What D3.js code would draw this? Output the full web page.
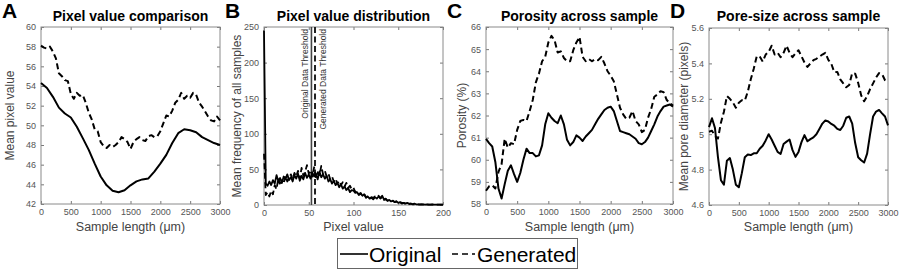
<!DOCTYPE html>
<html>
<head>
<meta charset="utf-8">
<script src="https://cdn.jsdelivr.net/npm/d3@7"></script>
<style>
  body { margin: 0; background: #fff; }
  svg { font-family: Arial, "Liberation Sans", sans-serif; }
  .tick text { fill: #555; font-size: 9px; }
  .tick line { stroke: #777; }
</style>
</head>
<body>
<svg id="chart" width="899" height="270"></svg>
<script>
// sample positions along the specimen (um)
const lenStep100 = d3.range(0, 3001, 100);
const lenStep50 = d3.range(0, 3001, 50);
const pixelSteps = d3.range(0, 201, 2);

// A - mean pixel value
const aOriginal = [54.3, 53.8, 52.9, 51.8, 51.2, 50.8, 49.85, 48.7, 47.5, 46.1, 44.8,
  43.9, 43.35, 43.2, 43.4, 43.9, 44.3, 44.5, 44.6, 45.3, 46.1, 47.0, 48.2, 49.2, 49.6,
  49.5, 49.3, 48.8, 48.5, 48.2, 48.0];
const aGenerated = [58.1, 57.9, 57.8, 58.0, 57.5, 56.8, 55.3, 55.0, 54.6, 54.5, 53.2,
  52.7, 53.3, 53.0, 53.1, 52.3, 51.3, 50.6, 49.6, 49.4, 48.3, 47.9, 47.7, 48.0, 47.8,
  48.0, 48.3, 48.8, 48.6, 48.3, 47.6, 48.3, 48.6, 48.8, 48.5, 48.4, 48.9, 49.0, 48.8,
  48.9, 49.4, 50.2, 51.0, 50.9, 51.5, 52.3, 52.6, 53.3, 52.7, 53.0, 52.8, 53.3, 53.1,
  52.3, 51.9, 51.4, 50.9, 50.5, 50.4, 50.9, 50.5];

// B - pixel value histogram
const bOriginal = [245, 30, 27, 33, 28, 35, 30, 42, 33, 38, 31, 40, 36, 43, 35, 39, 33,
  42, 37, 44, 34, 41, 36, 45, 38, 43, 37, 46, 40, 44, 36, 47, 39, 43, 37, 41, 33, 36,
  30, 34, 28, 31, 25, 29, 23, 26, 21, 24, 18, 21, 20, 17, 18, 14, 16, 13, 15, 11, 12,
  9, 10, 8, 11, 9, 12, 10, 13, 8, 9, 6, 7, 5, 6, 4, 5, 3, 4, 3, 3, 2, 3, 2, 2, 1, 2,
  1, 1, 1, 1, 1, 0.5, 1, 0.5, 0.5, 1, 0.5, 0.5, 0.5, 0.5, 0.5, 0.5];
const bGenerated = [72, 14, 18, 12, 20, 15, 28, 22, 38, 27, 35, 30, 41, 33, 38, 43, 36,
  45, 40, 48, 37, 52, 41, 47, 56, 44, 49, 40, 53, 38, 46, 42, 55, 43, 48, 40, 44, 36,
  40, 33, 37, 30, 34, 28, 32, 26, 31, 24, 27, 22, 24, 18, 20, 15, 17, 13, 15, 10, 12,
  9, 11, 10, 12, 11, 13, 9, 11, 7, 8, 6, 7, 5, 6, 4, 5, 3, 4, 2, 3, 2, 2, 1, 2, 1, 1,
  1, 1, 0.5, 1, 0.5, 0.5, 1, 0.5, 0.5, 0.5, 0.5, 0.5, 0.5, 0.5, 0.5, 0.5];
const thresholds = [53, 57];
const thresholdLabels = ['Original Data Threshold', 'Generated Data Threshold'];

// C - porosity (%)
const cOriginal = [60.94, 60.75, 60.6, 59.9, 58.7, 58.25, 58.9, 59.5, 59.75, 59.35, 59.0,
  59.4, 60.0, 60.5, 60.3, 60.3, 60.15, 60.2, 60.65, 61.6, 62.1, 61.9, 61.75, 61.65, 62.0,
  61.6, 60.9, 60.65, 60.8, 61.1, 61.0, 60.85, 61.05, 61.2, 61.35, 61.6, 61.85, 62.05,
  62.25, 62.35, 62.4, 62.2, 61.75, 61.3, 61.25, 61.2, 61.15, 61.05, 60.95, 60.75, 60.7,
  60.8, 61.0, 61.3, 61.6, 61.95, 62.2, 62.4, 62.45, 62.5, 62.4];
const cGenerated = [58.6, 58.8, 58.85, 58.7, 59.45, 59.8, 60.95, 60.55, 60.75, 60.7, 61.35,
  61.75, 61.8, 61.75, 62.2, 62.7, 63.5, 63.9, 64.45, 64.65, 65.3, 65.6, 65.4, 64.85, 64.9,
  64.6, 64.45, 64.45, 64.95, 65.3, 65.55, 64.65, 64.45, 64.55, 64.45, 64.55, 64.5, 64.65,
  64.35, 64.0, 63.8, 63.55, 62.95, 62.35, 62.05, 61.85, 61.9, 62.2, 61.75, 61.6, 61.25,
  61.35, 61.9, 62.3, 62.85, 62.95, 63.1, 63.05, 62.7, 62.55, 62.45];

// D - mean pore diameter (pixels)
const dOriginal = [5.04, 5.09, 5.035, 4.87, 4.74, 4.715, 4.85, 4.865, 4.8, 4.715, 4.7,
  4.78, 4.87, 4.885, 4.882, 4.892, 4.892, 4.918, 4.935, 4.965, 5.0, 4.97, 4.935, 4.9,
  4.888, 4.945, 4.958, 4.97, 4.91, 4.872, 4.9, 4.955, 4.995, 4.96, 4.972, 4.982, 5.0,
  5.03, 5.06, 5.078, 5.072, 5.058, 5.048, 5.03, 5.024, 5.048, 5.093, 5.1, 5.06, 4.95,
  4.87, 4.853, 4.84, 4.89, 5.0, 5.1, 5.128, 5.137, 5.118, 5.1, 5.05];
const dGenerated = [5.014, 5.02, 4.99, 4.975, 5.065, 5.127, 5.215, 5.2, 5.18, 5.15, 5.178,
  5.192, 5.19, 5.24, 5.31, 5.37, 5.44, 5.44, 5.41, 5.45, 5.465, 5.5, 5.45, 5.46, 5.435,
  5.46, 5.5, 5.46, 5.435, 5.457, 5.474, 5.44, 5.405, 5.38, 5.4, 5.418, 5.426, 5.438,
  5.45, 5.46, 5.42, 5.398, 5.35, 5.352, 5.31, 5.287, 5.265, 5.278, 5.345, 5.342, 5.29,
  5.22, 5.186, 5.215, 5.255, 5.287, 5.32, 5.345, 5.34, 5.305, 5.29];

const legendLabels = ['Original', 'Generated'];

const svg = d3.select('#chart');
const DASH = '6,3.5';

const panels = [
  {letter: 'A', title: 'Pixel value comparison', box: [41, 27, 220, 204],
   xDomain: [0, 3000], xTicks: d3.range(0, 3001, 500), yDomain: [42, 60], yTicks: d3.range(42, 61, 2),
   xLabel: 'Sample length (\u03bcm)', yLabel: 'Mean pixel value', yLabelX: 10,
   series: [{x: lenStep100, y: aOriginal}, {x: lenStep50, y: aGenerated, dash: true}]},
  {letter: 'B', title: 'Pixel value distribution', box: [264, 27, 443, 205],
   xDomain: [0, 200], xTicks: d3.range(0, 201, 50), yDomain: [0, 250], yTicks: d3.range(0, 251, 50),
   xLabel: 'Pixel value', yLabel: 'Mean frequency of all samples', yLabelX: 237,
   series: [{x: pixelSteps, y: bOriginal, w: 1.8}, {x: pixelSteps, y: bGenerated, dash: true, w: 1.8}]},
  {letter: 'C', title: 'Porosity across sample', box: [486, 27, 673, 204],
   xDomain: [0, 3000], xTicks: d3.range(0, 3001, 500), yDomain: [58, 66], yTicks: d3.range(58, 67, 1),
   xLabel: 'Sample length (\u03bcm)', yLabel: 'Porosity (%)', yLabelX: 462,
   series: [{x: lenStep50, y: cOriginal}, {x: lenStep50, y: cGenerated, dash: true}]},
  {letter: 'D', title: 'Pore-size across sample', box: [709, 28, 888, 205],
   xDomain: [0, 3000], xTicks: d3.range(0, 3001, 500), yDomain: [4.6, 5.6], yTicks: [4.6, 4.8, 5, 5.2, 5.4, 5.6],
   xLabel: 'Sample length (\u03bcm)', yLabel: 'Mean pore diameter (pixels)', yLabelX: 684,
   series: [{x: lenStep50, y: dOriginal}, {x: lenStep50, y: dGenerated, dash: true}]}
];

panels.forEach(p => {
  const [x0, y0, x1, y1] = p.box;
  const x = d3.scaleLinear().domain(p.xDomain).range([x0, x1]);
  const y = d3.scaleLinear().domain(p.yDomain).range([y1, y0]);

  const g = svg.append('g');

  // ticks on all four sides, pointing inward
  const fmt = d3.format('');
  g.append('g').attr('transform', `translate(0,${y1})`)
    .call(d3.axisBottom(x).tickValues(p.xTicks).tickSize(-3).tickPadding(5).tickFormat(fmt));
  g.append('g').attr('transform', `translate(0,${y0})`)
    .call(d3.axisTop(x).tickValues(p.xTicks).tickSize(-3).tickFormat(''));
  g.append('g').attr('transform', `translate(${x0},0)`)
    .call(d3.axisLeft(y).tickValues(p.yTicks).tickSize(-3).tickPadding(5).tickFormat(fmt));
  g.append('g').attr('transform', `translate(${x1},0)`)
    .call(d3.axisRight(y).tickValues(p.yTicks).tickSize(-3).tickFormat(''));
  g.selectAll('.domain').remove();

  g.append('rect')
    .attr('x', x0).attr('y', y0)
    .attr('width', x1 - x0).attr('height', y1 - y0)
    .attr('fill', 'none').attr('stroke', '#8a8a8a').attr('stroke-width', 1);

  if (p.letter === 'B') {
    thresholds.forEach((t, i) => {
      g.append('line')
        .attr('x1', x(t)).attr('x2', x(t))
        .attr('y1', y0).attr('y2', y1)
        .attr('stroke', i ? '#222' : '#444')
        .attr('stroke-width', i ? 2 : 1.6)
        .attr('stroke-dasharray', i ? DASH : null);
      const tx = i ? x(t) + 11 : x(t) - 3;
      g.append('text')
        .attr('transform', `translate(${tx},${y0 + 2}) rotate(-90)`)
        .attr('text-anchor', 'end')
        .attr('font-size', 8.5)
        .attr('fill', '#333')
        .text(thresholdLabels[i]);
    });
  }

  const line = d3.line().x(d => x(d[0])).y(d => y(d[1]));
  p.series.forEach(s => {
    g.append('path')
      .datum(s.x.map((v, i) => [v, s.y[i]]))
      .attr('d', line)
      .attr('fill', 'none')
      .attr('stroke', '#000')
      .attr('stroke-width', s.w || 2)
      .attr('stroke-linejoin', 'round')
      .attr('stroke-dasharray', s.dash ? DASH : null);
  });

  g.append('text')
    .attr('x', (x0 + x1) / 2).attr('y', 21)
    .attr('text-anchor', 'middle')
    .attr('font-size', 14).attr('font-weight', 'bold')
    .text(p.title);

  g.append('text')
    .attr('x', x0 - 39).attr('y', 18)
    .attr('font-size', 21).attr('font-weight', 'bold')
    .text(p.letter);

  g.append('text')
    .attr('x', (x0 + x1) / 2).attr('y', 231)
    .attr('text-anchor', 'middle')
    .attr('font-size', 12.5).attr('fill', '#444')
    .text(p.xLabel);

  g.append('text')
    .attr('transform', `translate(${p.yLabelX + 4},${(y0 + y1) / 2}) rotate(-90)`)
    .attr('text-anchor', 'middle')
    .attr('font-size', 12).attr('fill', '#444')
    .text(p.yLabel);
});

// legend
const leg = svg.append('g');
leg.append('rect')
  .attr('x', 337.5).attr('y', 238.5).attr('width', 240).attr('height', 30)
  .attr('fill', '#fff').attr('stroke', '#666');
leg.append('line').attr('x1', 340).attr('x2', 368).attr('y1', 254).attr('y2', 254)
  .attr('stroke', '#000').attr('stroke-width', 1.6);
leg.append('text').attr('x', 369).attr('y', 262).attr('font-size', 21).text(legendLabels[0]);
leg.append('line').attr('x1', 452).attr('x2', 475).attr('y1', 254).attr('y2', 254)
  .attr('stroke', '#000').attr('stroke-width', 1.6).attr('stroke-dasharray', '6,4');
leg.append('text').attr('x', 477).attr('y', 262).attr('font-size', 21).text(legendLabels[1]);
</script>
</body>
</html>
